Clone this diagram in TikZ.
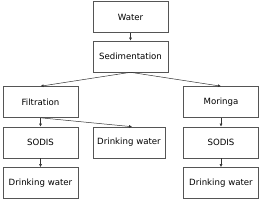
\documentclass[tikz,border=0pt]{standalone}
\usepackage{fontspec}
\setmainfont{DejaVu Sans}
\usetikzlibrary{arrows.meta, positioning}
\definecolor{boxline}{HTML}{555555}

\begin{document}
\begin{tikzpicture}[
    x=1pt, y=-1pt,
    font=\fontsize{8.6}{10}\selectfont,
    stage/.style={draw=boxline, fill=white, line width=0.6pt,
        minimum width=75pt, minimum height=31pt, align=center, inner sep=1pt},
    arrow/.style={-{Latex[length=3pt, width=3pt]}, line width=0.5pt, draw=black!80}
]
\useasboundingbox (0,0) rectangle (261,200);

% Source and pre-treatment
\node[stage] (water) at (130.5,17) {Water};
\node[stage] (sedim) at (130.5,56.5) {Sedimentation};

% Treatment branches
\node[stage] (filtr) at (40.5,102) {Filtration};
\node[stage] (moringa) at (221,102) {Moringa};

% Second stage
\node[stage] (sodisA) at (40.5,142.5) {SODIS};
\node[stage, minimum width=72pt] (drinkB) at (129,142.5) {Drinking water};
\node[stage] (sodisC) at (221,142.5) {SODIS};

% Final output
\node[stage] (drinkA) at (40.5,183) {Drinking water};
\node[stage] (drinkC) at (221,183) {Drinking water};

% Flows
\draw[arrow] (water.south) -- (sedim.north);
\draw[arrow] (sedim.south) -- (filtr.north);
\draw[arrow] (sedim.south) -- (moringa.north);
\draw[arrow] (filtr.south) -- (sodisA.north);
\draw[arrow] (filtr.south) -- ([xshift=3pt]drinkB.north);
\draw[arrow] (sodisA.south) -- (drinkA.north);
\draw[arrow] (moringa.south) -- (sodisC.north);
\draw[arrow] (sodisC.south) -- (drinkC.north);

\end{tikzpicture}
\end{document}
